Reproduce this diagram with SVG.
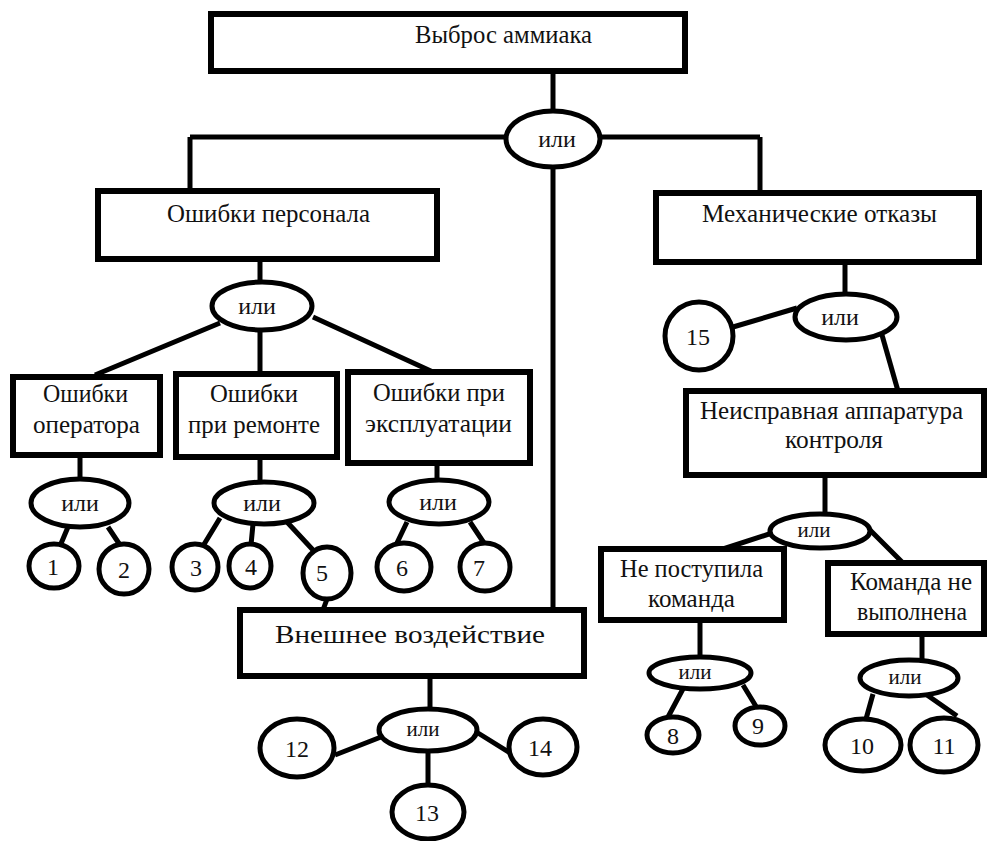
<svg xmlns="http://www.w3.org/2000/svg" width="990" height="841" viewBox="0 0 990 841">
<style>
.box{fill:#fff;stroke:#000;stroke-width:6}
.ell{fill:#fff;stroke:#000;stroke-width:5}
.ln{stroke:#000;stroke-width:5;fill:none}
text{font-family:"Liberation Serif","Times New Roman",serif;fill:#111;text-anchor:middle}
.t{font-size:26px;text-anchor:start}
.o{font-size:24px}
.s{font-size:21px}
.n{font-size:24px}
</style>
<rect width="990" height="841" fill="#fff"/>
<g id="connectors" class="ln">
<path d="M553,74V111"/>
<path d="M190,137H506M600,137H760"/>
<path d="M190,137V191M760,137V193"/>
<path d="M553,167V610"/>
<path d="M260,262V282"/>
<path d="M220,323L95,375M260,330V374M313,317L433,372"/>
<path d="M80,458V479"/>
<path d="M68,527L60,546M108,527L120,545"/>
<path d="M260,460V482"/>
<path d="M220,518L203,546M253,524L251,545M287,522L313,550"/>
<path d="M437,465V480"/>
<path d="M407,522L396,545M470,522L484,543"/>
<path d="M327,599L323,610"/>
<path d="M845,265V294"/>
<path d="M733,327L797,308"/>
<path d="M882,335L898,391"/>
<path d="M825,478V514"/>
<path d="M772,533L723,549M870,530L903,563"/>
<path d="M700,623V657"/>
<path d="M684,687L668,717M743,685L757,708"/>
<path d="M922,637V660"/>
<path d="M873,694L866,719M927,695L957,716"/>
<path d="M430,679V709"/>
<path d="M335,755L381,737M478,733L510,753M428,751V785"/>
</g>
<g id="n-top"><rect class="box" x="211" y="14" width="474" height="57"/><text class="t" x="415" y="43" textLength="177" lengthAdjust="spacingAndGlyphs">Выброс аммиака</text></g>
<g id="or-top"><ellipse class="ell" cx="553" cy="139" rx="47" ry="28"/><text class="o" x="557" y="147">или</text></g>
<g id="n-personal"><rect class="box" x="98" y="191" width="339" height="68"/><text class="t" x="167" y="222" textLength="203" lengthAdjust="spacingAndGlyphs">Ошибки персонала</text></g>
<g id="n-mech"><rect class="box" x="656" y="193" width="323" height="69"/><text class="t" x="702" y="222" textLength="235" lengthAdjust="spacingAndGlyphs">Механические отказы</text></g>
<g id="or-personal"><ellipse class="ell" cx="262" cy="306" rx="50" ry="24"/><text class="o" x="257" y="314">или</text></g>
<g id="n-operator"><rect class="box" x="13" y="377" width="147" height="78"/><text class="t" x="43" y="402" textLength="85" lengthAdjust="spacingAndGlyphs">Ошибки</text><text class="t" x="33" y="433" textLength="107" lengthAdjust="spacingAndGlyphs">оператора</text></g>
<g id="n-repair"><rect class="box" x="176" y="374" width="161" height="83"/><text class="t" x="210" y="402" textLength="88" lengthAdjust="spacingAndGlyphs">Ошибки</text><text class="t" x="188" y="433" textLength="132" lengthAdjust="spacingAndGlyphs">при ремонте</text></g>
<g id="n-exploit"><rect class="box" x="348" y="372" width="182" height="91"/><text class="t" x="373" y="401" textLength="132" lengthAdjust="spacingAndGlyphs">Ошибки при</text><text class="t" x="365" y="432" textLength="147" lengthAdjust="spacingAndGlyphs">эксплуатации</text></g>
<g id="or-operator"><ellipse class="ell" cx="80" cy="503" rx="49" ry="24"/><text class="o" x="80" y="511">или</text></g>
<g id="or-repair"><ellipse class="ell" cx="264" cy="503" rx="50" ry="21"/><text class="o" x="262" y="511">или</text></g>
<g id="or-exploit"><ellipse class="ell" cx="439" cy="502" rx="50" ry="22"/><text class="o" x="438" y="510">или</text></g>
<g id="e1"><ellipse class="ell" cx="54" cy="566" rx="25" ry="22"/><text class="n" x="53" y="575">1</text></g>
<g id="e2"><ellipse class="ell" cx="124" cy="569" rx="25" ry="25"/><text class="n" x="124" y="578">2</text></g>
<g id="e3"><ellipse class="ell" cx="195" cy="567" rx="23" ry="23"/><text class="n" x="196" y="576">3</text></g>
<g id="e4"><ellipse class="ell" cx="250" cy="566" rx="21" ry="22"/><text class="n" x="251" y="575">4</text></g>
<g id="e5"><ellipse class="ell" cx="327" cy="573" rx="24" ry="26"/><text class="n" x="322" y="581">5</text></g>
<g id="e6"><ellipse class="ell" cx="404" cy="567" rx="27" ry="24"/><text class="n" x="402" y="576">6</text></g>
<g id="e7"><ellipse class="ell" cx="485" cy="567" rx="25" ry="24"/><text class="n" x="479" y="576">7</text></g>
<g id="n-external"><rect class="box" x="240" y="610" width="344" height="66"/><text class="t" x="275" y="643" textLength="270" lengthAdjust="spacingAndGlyphs">Внешнее воздействие</text></g>
<g id="or-external"><ellipse class="ell" cx="428" cy="730" rx="49" ry="21"/><text class="s" x="423" y="736">или</text></g>
<g id="e12"><ellipse class="ell" cx="297" cy="748" rx="37" ry="29"/><text class="n" x="297" y="757">12</text></g>
<g id="e13"><ellipse class="ell" cx="428" cy="812" rx="36" ry="27"/><text class="n" x="427" y="821">13</text></g>
<g id="e14"><ellipse class="ell" cx="543" cy="747" rx="34" ry="28"/><text class="n" x="540" y="756">14</text></g>
<g id="or-mech"><ellipse class="ell" cx="846" cy="317" rx="51" ry="23"/><text class="o" x="840" y="325">или</text></g>
<g id="e15"><ellipse class="ell" cx="699" cy="336" rx="34" ry="34"/><text class="n" x="698" y="345">15</text></g>
<g id="n-control"><rect class="box" x="686" y="391" width="298" height="84"/><text class="t" x="700" y="419" textLength="263" lengthAdjust="spacingAndGlyphs">Неисправная аппаратура</text><text class="t" x="785" y="448" textLength="98" lengthAdjust="spacingAndGlyphs">контроля</text></g>
<g id="or-control"><ellipse class="ell" cx="820" cy="531" rx="50" ry="17"/><text class="s" x="814" y="537">или</text></g>
<g id="n-nocmd"><rect class="box" x="601" y="549" width="183" height="71"/><text class="t" x="620" y="577" textLength="143" lengthAdjust="spacingAndGlyphs">Не поступила</text><text class="t" x="648" y="607" textLength="87" lengthAdjust="spacingAndGlyphs">команда</text></g>
<g id="n-notexec"><rect class="box" x="828" y="563" width="156" height="71"/><text class="t" x="850" y="590" textLength="122" lengthAdjust="spacingAndGlyphs">Команда не</text><text class="t" x="857" y="620" textLength="110" lengthAdjust="spacingAndGlyphs">выполнена</text></g>
<g id="or-nocmd"><ellipse class="ell" cx="700" cy="673" rx="51" ry="16"/><text class="s" x="695" y="679">или</text></g>
<g id="or-notexec"><ellipse class="ell" cx="909" cy="678" rx="49" ry="18"/><text class="s" x="905" y="684">или</text></g>
<g id="e8"><ellipse class="ell" cx="673" cy="735" rx="26" ry="18"/><text class="n" x="673" y="744">8</text></g>
<g id="e9"><ellipse class="ell" cx="760" cy="726" rx="25" ry="19"/><text class="n" x="758" y="734">9</text></g>
<g id="e10"><ellipse class="ell" cx="863" cy="745" rx="38" ry="26"/><text class="n" x="862" y="754">10</text></g>
<g id="e11"><ellipse class="ell" cx="944" cy="745" rx="34" ry="27"/><text class="n" x="944" y="754">11</text></g>
</svg>
